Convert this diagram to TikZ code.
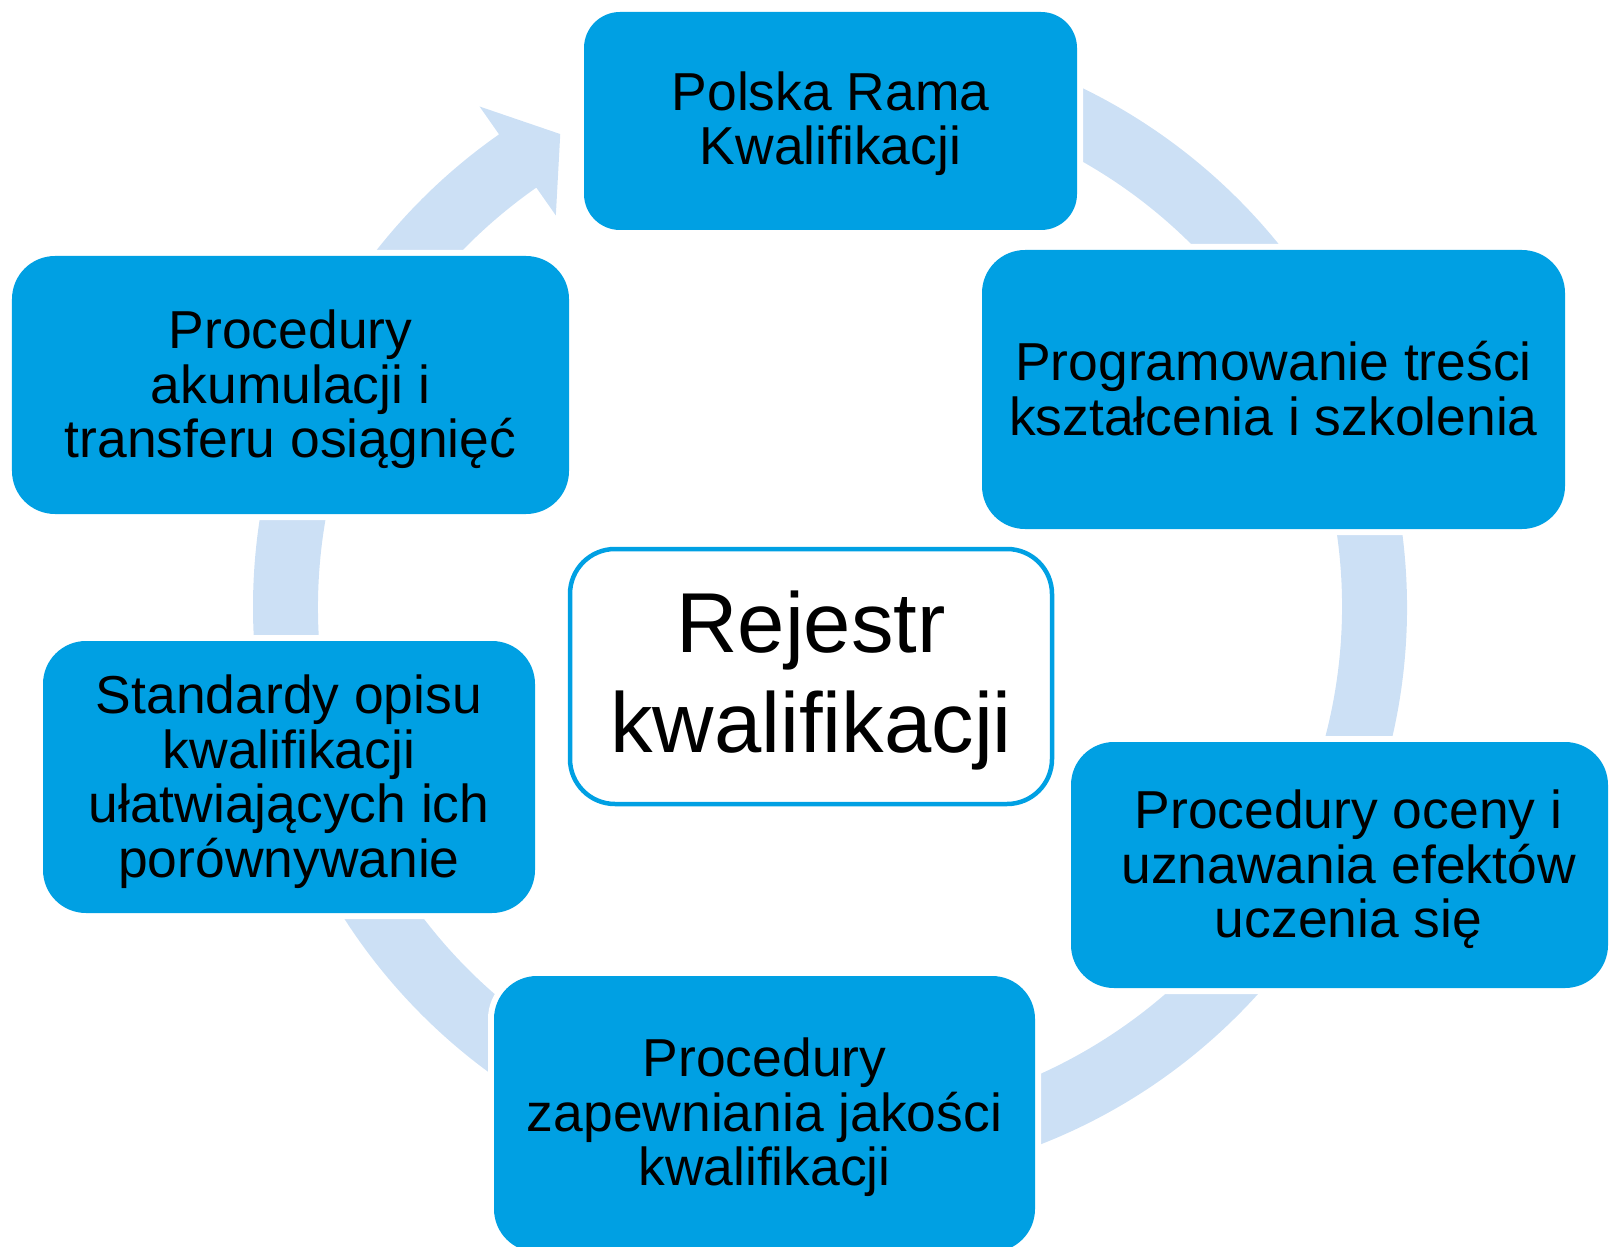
\documentclass[tikz,border=0pt]{standalone}
\usepackage{fontspec}
\setmainfont{Liberation Sans}
\usepackage{xcolor}
\usepackage{tikz}
\definecolor{boxblue}{RGB}{0,160,227}
\definecolor{ringblue}{RGB}{204,224,245}
\newcommand{\nudge}{\hspace*{0.18cm}}

\begin{document}
\begin{tikzpicture}[
    stage/.style={rectangle, fill=boxblue, rounded corners=0.43cm, inner sep=0pt, align=center,
        font=\fontsize{15.2}{15.5}\selectfont, text depth=0pt,
        preaction={draw=white, line width=0.12cm}},
    centre/.style={rectangle, draw=boxblue, line width=0.045cm, fill=white, rounded corners=0.45cm,
        inner sep=0pt, align=center, font=\fontsize{24.2}{28.4}\selectfont, text depth=0pt}
]
    \useasboundingbox (0,0) rectangle (16.11,12.46);

    % Ring with one arrow head, lying under the boxes
    \coordinate (ring) at (8.30,6.39);
    \fill[ringblue] ([shift={(ring)}]95:5.77) arc[start angle=95, end angle=-235, radius=5.77]
        -- ([shift={(ring)}]-235:6.11) -- ([shift={(ring)}]-240.3:5.445) -- ([shift={(ring)}]-235:4.78)
        -- ([shift={(ring)}]-235:5.12) arc[start angle=-235, end angle=95, radius=5.12] -- cycle;

    % Boxes round the ring
    \node[stage, minimum width=4.93cm, minimum height=2.18cm, rounded corners=0.36cm, text height=25pt] (prk) at (8.305,11.25) {Polska Rama\\Kwalifikacji};
    \node[stage, minimum width=5.83cm, minimum height=2.79cm, text height=26pt] (program) at (12.735,8.565) {Programowanie treści\\kształcenia i szkolenia};
    \node[stage, minimum width=5.37cm, minimum height=2.46cm, text height=41.5pt] (ocena) at (13.395,3.81) {\nudge Procedury oceny i\\\nudge uznawania efektów\\\nudge uczenia się};
    \node[stage, minimum width=5.41cm, minimum height=2.76cm, text height=40.7pt] (jakosc) at (7.645,1.32) {Procedury\\zapewniania jakości\\kwalifikacji};
    \node[stage, minimum width=4.92cm, minimum height=2.72cm, text height=57pt] (standardy) at (2.89,4.69) {Standardy opisu\\kwalifikacji\\ułatwiających ich\\porównywanie};
    \node[stage, minimum width=5.57cm, minimum height=2.58cm, text height=41.5pt] (akumulacja) at (2.905,8.61) {Procedury\\akumulacji i\\transferu osiągnięć};

    % Register in the middle
    \node[centre, minimum width=4.82cm, minimum height=2.55cm, text height=43.4pt] (rejestr) at (8.11,5.695) {Rejestr\\kwalifikacji};
\end{tikzpicture}
\end{document}
